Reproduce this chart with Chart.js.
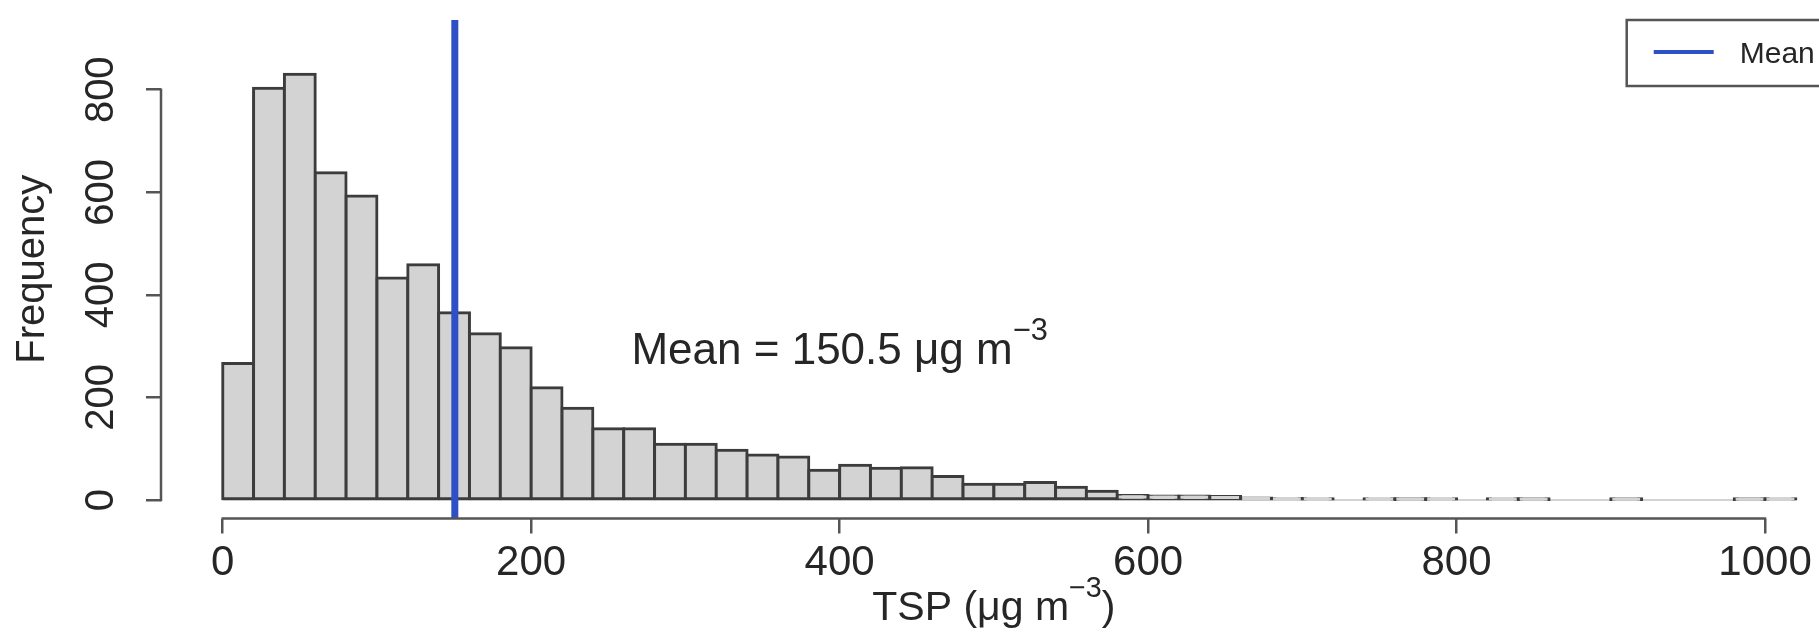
<!DOCTYPE html>
<html>
<head>
<meta charset="utf-8">
<title>TSP histogram</title>
<script src="https://cdn.jsdelivr.net/npm/chart.js@4.4.1/dist/chart.umd.min.js"></script>
<style>
  html, body { margin: 0; padding: 0; background: #fff; }
  #wrap { width: 1819px; height: 644px; }
</style>
</head>
<body>
<div id="wrap"><canvas id="tspChart" width="1819" height="644"></canvas></div>
<script>
// histogram bins (left edge, ug/m3) and counts
const binEdges = [0, 20, 40, 60, 80, 100, 120, 140, 160, 180,
  200, 220, 240, 260, 280, 300, 320, 340, 360, 380,
  400, 420, 440, 460, 480, 500, 520, 540, 560, 580,
  600, 620, 640, 660, 680, 700, 720, 740, 760, 780,
  800, 820, 840, 860, 880, 900, 920, 940, 960, 980, 1000];
const binCounts = [266, 803, 830, 638, 593, 433, 459, 365, 324, 297,
  219, 179, 139, 139, 109, 109, 97, 88, 84, 58,
  68, 62, 63, 46, 31, 31, 34, 25, 17, 9,
  8, 8, 7, 4, 3, 2, 0, 2, 1, 2,
  0, 2, 1, 0, 0, 1, 0, 0, 0, 1, 2];
const binWidth = 20;
const meanValue = 150.5;
const meanLabel = "Mean";
const xTicks = [0, 200, 400, 600, 800, 1000];
const yTicks = [0, 200, 400, 600, 800];

const FONT = "'Liberation Sans', Arial, Helvetica, sans-serif";
const INK = "#262626";
const AXIS = "#555555";
const MEAN_COLOR = "#2f4fc4";
const USR_RIGHT = 1040; // right edge of R's plot region (off canvas)

// draw text made of [string, isSuperscript] pieces
function richText(ctx, parts, x, y, size, align) {
  const widths = parts.map(([t, sup]) => {
    ctx.font = (sup ? size * 0.7 : size) + "px " + FONT;
    return ctx.measureText(t).width;
  });
  const total = widths.reduce((a, b) => a + b, 0);
  let cx = align === "center" ? x - total / 2 : x;
  ctx.textAlign = "left";
  ctx.textBaseline = "alphabetic";
  parts.forEach(([t, sup], i) => {
    ctx.font = (sup ? size * 0.7 : size) + "px " + FONT;
    ctx.fillText(t, cx, sup ? y - size * 0.55 : y);
    cx += widths[i];
  });
}

const rExtras = {
  id: "rExtras",
  beforeDatasetsDraw(chart) {
    const { ctx, scales: { x, y } } = chart;
    // faint line under empty bins
    ctx.save();
    ctx.strokeStyle = "#c4c4c4";
    ctx.lineWidth = 1.5;
    ctx.beginPath();
    ctx.moveTo(x.getPixelForValue(binEdges[0]), y.getPixelForValue(0));
    ctx.lineTo(x.getPixelForValue(binEdges[binEdges.length - 1] + binWidth), y.getPixelForValue(0));
    ctx.stroke();
    ctx.restore();
  },
  afterDraw(chart) {
    const { ctx, chartArea, scales: { x, y } } = chart;
    ctx.save();

    // R style axis lines, only between first and last tick
    ctx.strokeStyle = AXIS;
    ctx.lineWidth = 2.5;
    ctx.lineCap = "square";
    ctx.beginPath();
    ctx.moveTo(x.getPixelForValue(xTicks[0]), chartArea.bottom);
    ctx.lineTo(x.getPixelForValue(xTicks[xTicks.length - 1]), chartArea.bottom);
    ctx.moveTo(chartArea.left, y.getPixelForValue(yTicks[0]));
    ctx.lineTo(chartArea.left, y.getPixelForValue(yTicks[yTicks.length - 1]));
    ctx.stroke();

    ctx.fillStyle = INK;
    // annotation
    richText(ctx, [["Mean = " + meanValue + " \u03bcg m", false], ["\u22123", true]],
      x.getPixelForValue(400), y.getPixelForValue(300) + 18, 44, "center");

    // x axis title
    const midX = (chartArea.left + x.getPixelForValue(USR_RIGHT)) / 2;
    richText(ctx, [["TSP (\u03bcg m", false], ["\u22123", true], [")", false]],
      midX, 620, 41, "center");

    // legend box (cut by the right edge like the original)
    const boxRight = x.getPixelForValue(USR_RIGHT);
    const boxLeft = boxRight - 200;
    const boxTop = chartArea.top;
    ctx.strokeStyle = AXIS;
    ctx.lineWidth = 2.5;
    ctx.lineCap = "butt";
    ctx.strokeRect(boxLeft, boxTop, 200, 66);
    ctx.strokeStyle = MEAN_COLOR;
    ctx.lineWidth = 4;
    ctx.beginPath();
    ctx.moveTo(boxLeft + 27, boxTop + 32);
    ctx.lineTo(boxLeft + 87, boxTop + 32);
    ctx.stroke();
    ctx.font = "30px " + FONT;
    ctx.fillStyle = INK;
    ctx.textAlign = "left";
    ctx.textBaseline = "alphabetic";
    ctx.fillText(chart.data.datasets[0].label, boxLeft + 113, boxTop + 43);

    ctx.restore();
  }
};

const ctx = document.getElementById("tspChart");

new Chart(ctx, {
  type: "bar",
  data: {
    datasets: [
      {
        type: "line",
        label: meanLabel,
        data: [{ x: meanValue, y: -36 }, { x: meanValue, y: 936 }],
        borderColor: MEAN_COLOR,
        borderWidth: 7,
        pointRadius: 0,
        order: 0
      },
      {
        type: "bar",
        label: "TSP",
        data: binEdges.map((e, i) => ({ x: e + binWidth / 2, y: binCounts[i] })),
        backgroundColor: "#d3d3d3",
        borderColor: "#3c3c3c",
        borderWidth: 3,
        borderSkipped: false,
        inflateAmount: 1.5,
        barPercentage: 1,
        categoryPercentage: 1,
        order: 1
      }
    ]
  },
  options: {
    responsive: false,
    animation: false,
    events: [],
    layout: { padding: { top: 20, right: 0, left: 0, bottom: 0 } },
    plugins: {
      legend: { display: false },
      tooltip: { enabled: false }
    },
    scales: {
      x: {
        type: "linear",
        min: -40,
        max: 1035,
        offset: false,
        afterBuildTicks: (scale) => { scale.ticks = xTicks.map(v => ({ value: v })); },
        afterFit: (scale) => {
          scale.height = 125.5;
          scale.paddingLeft = 0;
          scale.paddingRight = 0;
        },
        border: { display: false },
        grid: { display: true, offset: false, drawOnChartArea: false, drawTicks: true, tickLength: 15, color: AXIS, lineWidth: 2.5 },
        ticks: {
          autoSkip: false,
          maxRotation: 0,
          padding: 5,
          color: INK,
          font: { family: FONT, size: 42 },
          callback: (v) => String(v)
        }
      },
      y: {
        type: "linear",
        min: -36,
        max: 936,
        afterBuildTicks: (scale) => { scale.ticks = yTicks.map(v => ({ value: v })); },
        afterFit: (scale) => {
          scale.width = 161;
          scale.paddingTop = 0;
          scale.paddingBottom = 0;
        },
        border: { display: false },
        grid: { display: true, drawOnChartArea: false, drawTicks: true, tickLength: 15, color: AXIS, lineWidth: 2.5 },
        title: {
          display: true,
          text: "Frequency",
          color: INK,
          font: { family: FONT, size: 40 },
          padding: { top: 9, bottom: 0 }
        },
        ticks: {
          autoSkip: false,
          minRotation: 90,
          maxRotation: 90,
          crossAlign: "center",
          padding: 10.6,
          color: INK,
          font: { family: FONT, size: 40 },
          callback: (v) => String(v)
        }
      }
    }
  },
  plugins: [rExtras]
});
</script>
</body>
</html>
